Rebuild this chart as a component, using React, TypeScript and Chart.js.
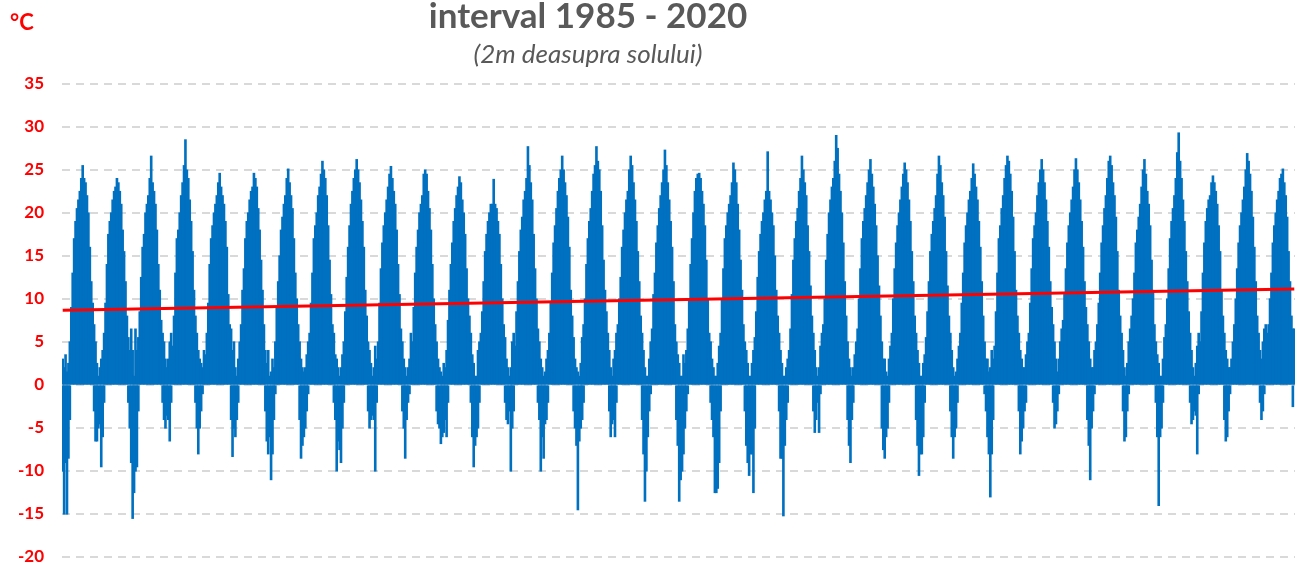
import { useEffect, useRef } from "react";
import { Chart, registerables } from "chart.js";

Chart.register(...registerables);

// ---- data (half-month envelope per year) ----
const years = [
  1985, 1986, 1987, 1988, 1989, 1990, 1991, 1992, 1993, 1994, 1995, 1996,
  1997, 1998, 1999, 2000, 2001, 2002, 2003, 2004, 2005, 2006, 2007, 2008,
  2009, 2010, 2011, 2012, 2013, 2014, 2015, 2016, 2017, 2018, 2019, 2020,
];

// upper envelope (max daily temperature of positive days), 24 bins per year
const upperValues: number[][] = [
  [3, 2, 3.5, 1.5, 2.5, 5, 9, 13, 17, 19, 20.5, 21.5, 22.5, 24, 25.5, 24, 23.5, 22, 20, 16, 12, 9.5, 7, 5],
  [2.5, 1, 2, 3, 4, 6, 9.5, 14, 17.5, 19, 20, 21.5, 22.5, 23, 24, 23.5, 22.5, 21, 18, 15.5, 12, 8, 5.5, 4],
  [6.5, 4, 1, 6.5, 4, 5.5, 8.5, 12.5, 16, 17.5, 20, 21, 22, 24, 26.6, 23.5, 22.5, 21, 18, 14, 11, 7.5, 6, 5],
  [3, 2, 3, 5, 6, 4.5, 8, 13, 17, 18, 20, 22, 23.5, 25.5, 28.5, 25, 24, 21.5, 19, 15.5, 11, 8, 6, 4],
  [3, 2.5, 2, 4, 3.5, 6, 9.5, 14, 17, 18.5, 20, 21, 22, 23.5, 24.6, 23, 22, 21, 19, 16, 10.5, 7, 6.5, 4],
  [5, 2, 1, 3, 5, 7, 11, 13.5, 17, 19, 20, 21.5, 22.5, 23, 24.6, 24, 23, 20.5, 18, 14.5, 11, 7, 4, 2.5],
  [4, 1, 1.5, 3, 2, 5, 9, 12, 15, 18, 19.5, 21, 22, 24, 25.1, 23.5, 22, 20.5, 17, 13, 10, 7, 5, 3],
  [2, 1.5, 2, 3.5, 5, 6, 9.5, 13, 17, 18.5, 20, 22, 23, 24.5, 26, 25, 24, 22, 18.5, 14.5, 10.5, 7, 6, 3.5],
  [3, 2, 1, 2, 3.5, 5, 8.5, 12.5, 16, 18.5, 21, 22.5, 24, 25, 26.2, 25, 23.5, 21.5, 19, 16, 11, 8, 5, 4],
  [2.5, 1, 2, 4.5, 3, 5, 9.5, 13.5, 16.5, 18.5, 20, 21.5, 23, 24.5, 25.4, 24, 22.5, 21, 18, 14, 10.5, 6.5, 5, 3],
  [2, 1, 2, 3, 6, 5, 9, 13, 16, 18, 20, 21, 22, 24.5, 25, 24.5, 22.5, 20.5, 18, 14, 10, 7, 5, 3],
  [2, 1.5, 1, 2.5, 2, 4, 7.5, 11, 14, 16.5, 19, 20.5, 22, 23, 24.2, 23.5, 21.5, 20, 17.5, 13.5, 10, 8, 6, 3.5],
  [2.5, 1, 1, 4, 5, 6, 8.5, 12, 15.5, 17.5, 19, 20, 21, 21, 23.9, 21, 20.5, 19, 17.5, 14, 10, 7, 5.5, 3],
  [2, 1, 2, 5, 6, 4.5, 8.5, 12, 15.5, 18, 19.5, 21.5, 22.5, 24, 27.7, 25.5, 23.5, 21.5, 17.5, 13.5, 10, 6.5, 5, 3],
  [2, 1, 1.5, 3, 4, 6, 9.5, 13, 16.5, 18.5, 20.5, 22.5, 24, 25, 26.6, 25, 23.5, 22, 19.5, 16, 11, 8, 5.5, 3],
  [2, 1.5, 1, 2.5, 5.5, 7, 10, 14, 17, 19, 20.5, 22.5, 24.5, 25.5, 27.7, 26, 25, 22.5, 18.5, 14.5, 11, 8.5, 6, 4],
  [2, 1, 3, 4, 6, 7, 10, 12.5, 16, 18, 20, 21.5, 22.5, 25, 26.6, 25.5, 23.5, 21.5, 19, 15.5, 12, 8, 6, 4],
  [2, 1, 1, 3, 5, 6.5, 10.5, 13, 16.5, 18.5, 20.5, 22, 23.5, 25, 27.3, 25.5, 23.5, 21.5, 19, 16, 12, 7, 5, 3.5],
  [2.5, 1, 1, 3.5, 2.5, 4, 6.5, 10, 14, 17, 20, 22.5, 24, 24.5, 24.6, 24, 22.5, 21, 18.5, 14.5, 10, 6, 5, 3],
  [2, 1, 1, 2.5, 4.5, 6, 10, 13.5, 17, 18.5, 20, 21, 22, 23.5, 25.8, 25, 23.5, 21, 18, 14.5, 11, 7, 5, 4],
  [2.5, 1, 1, 2.5, 4, 5.5, 8.5, 12.5, 15.5, 17.5, 19, 20, 21.5, 22.5, 27.1, 22.5, 21.5, 20, 18.5, 15, 11, 8, 6, 4],
  [2.5, 1, 1, 2, 3, 4, 6.5, 10.5, 14.5, 17, 19, 20.5, 22.5, 24, 26.6, 25, 23.5, 22, 18.5, 15.5, 11.5, 8, 6, 4],
  [2, 1, 2, 4.5, 6, 7, 10, 14.5, 17.5, 20, 21.5, 23, 24, 26, 29, 27.5, 24.5, 22.5, 20, 16.5, 12, 8, 5, 3],
  [2, 1, 2, 3.5, 5, 6.5, 10, 13.5, 17, 19, 20.5, 22, 23.5, 25, 26.2, 24.5, 23, 21, 18.5, 15, 11.5, 8, 5, 3],
  [3, 1.5, 1, 3, 4.5, 6, 10, 13.5, 16.5, 18.5, 20, 21.5, 23, 24.5, 25.8, 25, 23.5, 21.5, 19, 15.5, 12, 8, 6, 4],
  [2.5, 1, 1, 2.5, 3.5, 5.5, 8.5, 12, 15.5, 17.5, 19, 20.5, 22, 24.5, 26.6, 25.5, 23.5, 22, 19.5, 15.5, 11.5, 8, 6, 4],
  [2, 1, 1.5, 3, 4.5, 6, 9.5, 13, 16.5, 18.5, 20, 21.5, 22.5, 24, 25.7, 24.5, 23, 21.5, 19, 16, 12, 8, 5, 3],
  [3, 1.5, 2, 4, 3, 4.5, 8.5, 13, 17, 18.5, 20.5, 22, 24, 25.5, 26.6, 26, 24.5, 22.5, 19.5, 15.5, 11, 8, 6, 4],
  [3, 2, 2, 3.5, 5, 6, 9.5, 13.5, 17, 18.5, 20, 22, 23.5, 25, 26.2, 25, 23.5, 21.5, 19, 16, 12, 9, 7, 5],
  [3, 1.5, 3, 5, 6.5, 7.5, 10.5, 13.5, 16.5, 18.5, 20, 21.5, 23, 25, 26.3, 25, 23.5, 21.5, 19, 16, 12, 9, 7, 5],
  [3, 2, 2, 4, 5, 7, 9.5, 13, 16.5, 18.5, 20.5, 22, 24, 26, 26.6, 25.5, 23.5, 22, 19.5, 15.5, 11, 8, 6, 4],
  [2, 1, 2.5, 5, 6.5, 8, 10, 13, 16.5, 18, 19.5, 21, 23, 25, 26.2, 24.5, 22.5, 21, 18.5, 14.5, 11, 7, 5, 3.5],
  [2.5, 1, 1, 3, 5.5, 7, 10, 13.5, 17, 19, 20.5, 22, 24, 27, 29.3, 26, 24, 21.5, 19, 15.5, 12, 8.5, 6, 4],
  [2, 1, 2.5, 4.5, 6, 5, 8.5, 13, 16.5, 19, 20.5, 21.5, 22, 23.5, 24.3, 23.5, 22.5, 21, 18.5, 15.5, 11, 8, 6, 4],
  [3, 2, 2, 3, 5, 7, 10, 13.5, 16.5, 18.5, 20, 21.5, 23, 25, 26.9, 26, 24.5, 22.5, 19.5, 16, 12, 8, 6, 4],
  [3, 5, 6.5, 7, 6, 7, 10, 13, 16.5, 18.5, 20, 21.5, 22.5, 24, 24.5, 25.1, 23.5, 22, 19.5, 15.5, 12, 8, 6.5, 6.5],
];

// lower envelope of frost days: first 7 half-months (Jan - early Apr) of each year
const janLows: number[][] = [
  [-10, -15, -9, -15, -8.5, -4, 0],
  [-6.5, -5, -4.5, -9.5, -6, -2, 0],
  [-9, -15.5, -12.5, -10, -9.5, -3, 0],
  [-5, -3.5, -4, -6.5, -2, 0, 0],
  [-5, -3, -1, 0, 0, 0, 0],
  [-5, -6, -4, -2, 0, 0, 0],
  [-8, -6, -11, -8, -4, -1, 0],
  [-7, -6, -5, -3, -1, 0, 0],
  [-10, -6.5, -7.5, -9, -5, -2, 0],
  [-4, -3.5, -4, -10, -2, 0, 0],
  [-8.5, -4, -2, -1, 0, 0, 0],
  [-5, -6.8, -6, -5.5, -4, -6, -2],
  [-9.5, -7, -6, -5, -2, 0, 0],
  [-4.5, -3, -10, -5, -3, 0, 0],
  [-6, -8.5, -4.5, -4, -2, 0, 0],
  [-7, -14.5, -6.5, -5, -4, -2, 0],
  [-6, -4.5, -4, -6, -2, 0, 0],
  [-13.5, -10, -6, -3, -1, 0, 0],
  [-13.5, -11, -10, -8, -5, -3, -1],
  [-6, -12.5, -12.5, -12, -9, -3, 0],
  [-9, -10.5, -8, -8, -12.5, -5, 0],
  [-8.5, -15.2, -7, -4, -2, 0, 0],
  [-4, -2, -5.5, -1, 0, 0, 0],
  [-9, -4, -2, 0, 0, 0, 0],
  [-8.5, -6, -5, -2, 0, 0, 0],
  [-10.5, -8, -8, -6, -2, 0, 0],
  [-8.5, -6, -5, -2, 0, 0, 0],
  [-6, -8, -13, -8, -4, 0, 0],
  [-6.5, -5, -3, -2, 0, 0, 0],
  [-4.5, -3, -1, 0, 0, 0, 0],
  [-11, -5, -3, -1, 0, 0, 0],
  [-6.5, -6, -3, -1, 0, 0, 0],
  [-14, -6, -5, -2, 0, 0, 0],
  [-4, -3, -3.5, -8, -1, 0, 0],
  [-6, -3, -1, 0, 0, 0, 0],
  [-4, -3, -1, 0, 0, 0, 0],
];

// lower envelope of frost days: last 4 half-months (Nov - Dec) of each year
const decLows: number[][] = [
  [0, 0, -3, -6.5],
  [0, 0, -2, -5],
  [0, 0, -2, -4],
  [0, -2, -5, -8],
  [0, 0, -4, -8.3],
  [0, 0, -3, -6.5],
  [0, 0, -4, -8.5],
  [0, 0, -2, -4],
  [0, 0, -3, -5],
  [0, 0, -3, -5],
  [0, 0, -3, -4.5],
  [0, 0, -2, -6],
  [0, 0, -2, -4],
  [0, -2, -4, -10],
  [0, 0, -3, -5],
  [0, 0, 0, -3],
  [0, 0, -4, -8],
  [0, 0, -4, -7],
  [0, 0, -2, -4],
  [0, 0, -3, -7],
  [0, 0, -3, -8.5],
  [0, 0, -3, -5.5],
  [0, 0, -4, -7],
  [0, 0, -5, -7.5],
  [0, 0, -4, -7],
  [0, 0, -3, -6],
  [0, 0, -1, -3],
  [0, 0, -3, -8],
  [0, 0, -2, -5],
  [0, 0, -4, -7],
  [0, 0, 0, -3],
  [0, 0, -2, -6],
  [0, 0, -2, -4.5],
  [0, 0, -4, -6.5],
  [0, 0, 0, -2],
  [0, 0, -2.5, 0],
];

// linear trend: value at the first and at the last day
const trendValues = [8.7, 11.15];

const yMin = -20;
const yMax = 35;
const yStep = 5;

const titleText = "interval 1985 - 2020";
const subtitleText = "(2m deasupra solului)";
const unitText = "°C";

export default function App() {
  const canvasRef = useRef<HTMLCanvasElement | null>(null);

  useEffect(() => {
    const canvas = canvasRef.current;
    if (!canvas) return;

    const labels: string[] = [];
    const upperData: (number | null)[] = [];
    const lowerData: (number | null)[] = [];
    years.forEach((yr, i) => {
      const up = upperValues[i];
      for (let b = 0; b < up.length; b++) {
        labels.push(`${yr}-${b + 1}`);
        upperData.push(up[b]);
        let lv = 0;
        if (b < janLows[i].length) lv = janLows[i][b];
        const decStart = up.length - decLows[i].length;
        if (b >= decStart) lv = decLows[i][b - decStart];
        lowerData.push(lv < 0 ? lv : null);
      }
    });
    const trendData: (number | null)[] = labels.map(() => null);
    trendData[0] = trendValues[0];
    trendData[trendData.length - 1] = trendValues[1];

    const textPlugin = {
      id: "freeTexts",
      afterDraw(chart: any) {
        const ctx = chart.ctx as CanvasRenderingContext2D;
        ctx.save();
        ctx.fillStyle = "#595959";
        ctx.textAlign = "center";
        ctx.textBaseline = "alphabetic";
        ctx.font = "bold 35px Lato";
        ctx.fillText(titleText, 588, 28);
        ctx.font = "italic 26px Lato";
        ctx.fillText(subtitleText, 588, 63);
        ctx.fillStyle = "#FF0000";
        ctx.textAlign = "left";
        ctx.font = "bold 22px Lato";
        ctx.fillText(unitText, 10, 30);
        ctx.restore();
      },
    };

    const barStyle = {
      backgroundColor: "#0070C0",
      borderWidth: 0,
      barPercentage: 1,
      categoryPercentage: 1,
      inflateAmount: 0.6,
      grouped: false,
      order: 1,
    };

    const chart = new Chart(canvas, {
      type: "bar",
      data: {
        labels,
        datasets: [
          {
            type: "line",
            label: "trend",
            data: trendData,
            borderColor: "#FF0000",
            borderWidth: 3,
            pointRadius: 0,
            spanGaps: true,
            order: 0,
          } as any,
          { label: "upper", data: upperData, ...barStyle } as any,
          { label: "lower", data: lowerData, ...barStyle } as any,
        ],
      },
      options: {
        animation: false,
        responsive: false,
        maintainAspectRatio: false,
        devicePixelRatio: 1,
        layout: { padding: { top: 84, bottom: 9, left: 0, right: 8 } },
        plugins: {
          legend: { display: false },
          tooltip: { enabled: false },
          title: { display: false },
        },
        scales: {
          x: {
            display: false,
            grid: { display: false },
          },
          y: {
            min: yMin,
            max: yMax,
            afterFit: (scale: any) => {
              scale.width = 62;
              scale.paddingTop = 0;
              scale.paddingBottom = 0;
            },
            ticks: {
              stepSize: yStep,
              color: "#FF0000",
              padding: 18,
              font: { family: "Lato", size: 17, weight: "bold" },
            },
            grid: {
              color: "#D9D9D9",
              lineWidth: 2,
              drawTicks: false,
            },
            border: { display: false, dash: [8, 6] },
          },
        },
      },
      plugins: [textPlugin],
    });

    return () => chart.destroy();
  }, []);

  return (
    <div
      style={{
        position: "fixed",
        left: 0,
        top: 0,
        width: 1303,
        height: 566,
        background: "#FFFFFF",
      }}
    >
      <canvas
        ref={canvasRef}
        width={1303}
        height={566}
        style={{ display: "block", width: 1303, height: 566 }}
      />
    </div>
  );
}
